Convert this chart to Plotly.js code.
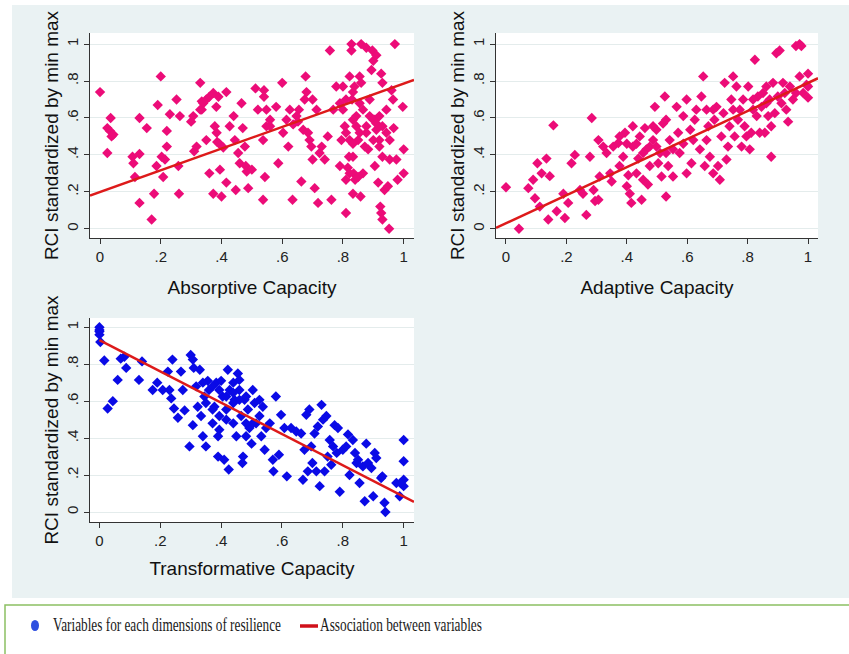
<!DOCTYPE html>
<html>
<head>
<meta charset="utf-8">
<script src="https://cdn.plot.ly/plotly-3.0.1.min.js"></script>
<style>html,body{margin:0;padding:0;background:#fff;}#chart{width:849px;height:654px;}</style>
</head>
<body>
<div id="chart"></div>
<script>
// ---- Data ----
const tickVals = [0, 0.2, 0.4, 0.6, 0.8, 1];
const tickText = ['0', '.2', '.4', '.6', '.8', '1'];
const yTitle = 'RCI standardized by min max';
const xTitles = ['Absorptive Capacity', 'Adaptive Capacity', 'Transformative Capacity'];
const legendLabels = ['Variables for each dimensions of resilience', 'Association between variables'];

const absX = [0,.035,.024,.033,.038,.044,.024,.107,.11,.13,.13,.115,.13,.154,.17,.178,.186,.19,.20,.203,.208,.214,.22,.22,.23,.252,.258,.26,.263,.30,.307,.31,.318,.33,.335,.335,.34,.35,.36,.373,.383,.39,.416,.33,.35,.36,.373,.378,.384,.386,.393,.395,.40,.406,.416,.427,.44,.444,.447,.455,.46,.466,.47,.477,.48,.483,.488,.50,.512,.52,.54,.54,.537,.543,.548,.548,.537,.56,.56,.58,.587,.60,.603,.614,.62,.625,.634,.636,.647,.652,.655,.663,.669,.674,.677,.68,.685,.69,.696,.70,.70,.707,.713,.718,.723,.73,.74,.75,.757,.762,.768,.778,.79,.795,.80,.806,.81,.81,.816,.82,.822,.822,.828,.828,.83,.833,.835,.838,.84,.844,.85,.855,.855,.858,.86,.86,.866,.872,.877,.877,.883,.888,.894,.897,.90,.905,.905,.91,.91,.916,.92,.923,.926,.93,.926,.93,.937,.943,.948,.952,.954,.96,.967,.971,.976,.98,.997,1.0,1.0,.80,.81,.833,.844,.866,.877,.888,.90,.91,.92,.93,.943,.954,.965,.833,.855,.90,.92,.93,.833,.79,.81,.833,.822,.85];
const absY = [.74,.60,.545,.53,.50,.51,.41,.39,.355,.60,.405,.28,.14,.545,.05,.19,.34,.67,.825,.39,.28,.375,.53,.445,.62,.70,.34,.19,.61,.58,.61,.42,.445,.79,.69,.645,.68,.70,.715,.735,.66,.715,.74,.645,.48,.30,.19,.555,.52,.47,.46,.32,.175,.44,.25,.555,.61,.48,.21,.41,.355,.68,.545,.445,.34,.31,.22,.32,.76,.645,.75,.715,.157,.28,.645,.555,.48,.555,.59,.66,.355,.79,.52,.59,.445,.645,.157,.565,.61,.58,.645,.256,.536,.70,.825,.74,.52,.48,.445,.70,.375,.22,.645,.14,.41,.445,.375,.50,.965,.157,.645,.77,.34,.48,.77,.555,.085,.265,.33,.39,.48,.825,1.0,.965,.70,.19,.30,.77,.265,.61,.48,.68,.825,.175,1.0,.79,.30,.445,.98,.555,.43,.70,.86,.965,.91,.59,.34,.94,.536,.25,.48,.12,.085,.05,.84,.79,.21,.645,.23,0,.375,.75,.545,1.0,.375,.265,.66,.43,.30,.645,.70,.59,.555,.645,.52,.61,.59,.57,.61,.555,.52,.48,.70,.46,.52,.48,.445,.39,.39,.68,.52,.74,.30,.28];

const adpX = [0,.043,.074,.09,.096,.104,.112,.118,.134,.14,.145,.157,.168,.19,.195,.206,.217,.228,.245,.255,.266,.278,.284,.29,.295,.306,.306,.31,.322,.333,.345,.35,.355,.372,.376,.376,.388,.394,.40,.405,.41,.415,.42,.42,.432,.438,.443,.449,.454,.46,.465,.47,.476,.487,.493,.498,.504,.51,.515,.52,.526,.53,.537,.542,.553,.565,.57,.575,.587,.598,.598,.61,.614,.62,.625,.63,.642,.647,.653,.658,.664,.67,.675,.686,.69,.697,.702,.708,.713,.72,.724,.73,.735,.74,.746,.752,.757,.763,.768,.774,.78,.785,.79,.796,.802,.807,.812,.818,.824,.83,.834,.84,.846,.851,.857,.862,.868,.873,.878,.878,.884,.89,.895,.90,.906,.912,.917,.923,.928,.934,.94,.96,.972,.978,.96,.972,.984,.995,1.0,1.0,1.0,.95,.40,.432,.476,.498,.53,.553,.587,.487,.454,.53,.664,.686,.752,.818,.862];
const adpY = [.225,0,.22,.265,.165,.355,.12,.30,.38,.05,.285,.56,.095,.19,.058,.14,.355,.40,.21,.19,.075,.39,.60,.21,.15,.157,.48,.283,.445,.41,.30,.256,.445,.464,.34,.50,.39,.52,.23,.29,.19,.14,.445,.555,.30,.38,.50,.157,.265,.545,.43,.24,.34,.48,.66,.536,.355,.41,.283,.57,.716,.175,.34,.48,.283,.66,.52,.41,.61,.30,.70,.536,.355,.48,.59,.645,.43,.716,.825,.34,.48,.555,.39,.30,.59,.66,.34,.265,.50,.626,.79,.375,.445,.555,.70,.825,.50,.77,.59,.645,.445,.70,.555,.50,.77,.43,.52,.645,.915,.61,.716,.52,.66,.735,.52,.77,.61,.70,.39,.555,.79,.626,.95,.716,.965,.68,.79,.735,.645,.58,.77,.99,1.0,.99,.735,.825,.735,.78,.84,.71,.77,.70,.46,.46,.445,.445,.59,.43,.46,.555,.41,.41,.645,.645,.645,.70,.68];

const trfX = [0,0,0,0,.003,.016,.027,.044,.06,.07,.082,.088,.13,.14,.175,.19,.208,.225,.23,.236,.24,.245,.258,.268,.274,.28,.296,.30,.307,.307,.31,.318,.323,.33,.334,.34,.345,.35,.356,.36,.372,.378,.384,.39,.39,.394,.40,.405,.41,.417,.422,.425,.428,.44,.444,.45,.455,.46,.466,.47,.472,.477,.482,.488,.493,.50,.504,.51,.515,.526,.532,.537,.543,.548,.56,.57,.572,.58,.59,.597,.608,.616,.63,.647,.663,.669,.674,.68,.685,.69,.696,.70,.707,.713,.718,.724,.73,.735,.74,.746,.75,.757,.762,.768,.773,.78,.784,.79,.80,.811,.817,.822,.833,.84,.845,.85,.855,.866,.872,.877,.883,.894,.90,.905,.91,.926,.93,.937,.94,.976,.987,1.0,1.0,1.0,1.0,.99,.34,.372,.394,.44,.46,.417,.44,.46,.482,.35,.372,.394,.417,.504,.482,.526,.44];
const trfY = [1.0,.977,.96,.985,.92,.82,.56,.60,.715,.83,.84,.78,.715,.815,.66,.70,.66,.76,.66,.615,.825,.56,.51,.76,.66,.55,.355,.85,.825,.47,.78,.68,.57,.77,.52,.41,.625,.355,.71,.66,.48,.57,.70,.30,.41,.445,.71,.625,.283,.555,.77,.23,.66,.48,.607,.41,.75,.66,.52,.265,.30,.607,.41,.555,.455,.37,.66,.59,.48,.52,.41,.57,.337,.455,.48,.283,.22,.625,.31,.526,.455,.193,.455,.436,.425,.175,.337,.526,.22,.555,.355,.265,.425,.22,.463,.14,.58,.50,.22,.52,.30,.39,.256,.355,.47,.32,.455,.11,.337,.355,.42,.20,.39,.32,.265,.283,.157,.247,.058,.37,.265,.238,.085,.32,.292,.184,.193,.05,0,.157,.085,.39,.275,.175,.14,.157,.70,.68,.66,.70,.715,.625,.59,.607,.625,.59,.555,.52,.50,.48,.48,.607,.645];

// fitted association lines (end points)
const absLineX = [-0.033, 1.034], absLineY = [0.18, 0.806];
const adpLineX = [-0.033, 1.033], adpLineY = [0.005, 0.815];
const trfLineX = [0, 1.034], trfLineY = [0.93, 0.055];

// ---- Styles ----
const PINK = '#ec0c78', BLUE = '#0a0ae6', RED = '#dd1a1a', BG = '#eaf2f3';
const FONT = 'Liberation Sans, Arial, sans-serif';
const SERIF = 'Liberation Serif, Times New Roman, serif';

function pts(x, y, color, xa, ya) {
  return {x: x, y: y, xaxis: xa, yaxis: ya, type: 'scatter', mode: 'markers',
    marker: {symbol: 'diamond', size: 8, color: color, line: {width: 0}}, hoverinfo: 'x+y'};
}
function fit(x, y, xa, ya) {
  return {x: x, y: y, xaxis: xa, yaxis: ya, type: 'scatter', mode: 'lines',
    line: {color: RED, width: 2.5}, hoverinfo: 'skip'};
}
const data = [
  pts(absX, absY, PINK, 'x', 'y'), fit(absLineX, absLineY, 'x', 'y'),
  pts(adpX, adpY, PINK, 'x2', 'y2'), fit(adpLineX, adpLineY, 'x2', 'y2'),
  pts(trfX, trfY, BLUE, 'x3', 'y3'), fit(trfLineX, trfLineY, 'x3', 'y3')
];

function xax(dom, rng, title, anchor, so) {
  return {domain: dom, range: rng, anchor: anchor, showline: true, linecolor: '#333', linewidth: 1,
    ticks: 'outside', ticklen: 5, tickcolor: '#333', tickvals: tickVals, ticktext: tickText,
    tickfont: {size: 15, color: '#222', family: FONT}, showgrid: false, zeroline: false,
    title: {text: title, font: {size: 19, color: '#111', family: FONT}, standoff: so}};
}
function yax(dom, rng, anchor) {
  return {domain: dom, range: rng, anchor: anchor, showline: true, linecolor: '#333', linewidth: 1,
    ticks: 'outside', ticklen: 5, tickcolor: '#333', tickvals: tickVals, ticktext: tickText, tickangle: -90,
    tickfont: {size: 15, color: '#222', family: FONT}, showgrid: true, gridcolor: '#e4ecec', gridwidth: 1,
    zeroline: false,
    title: {text: yTitle, font: {size: 19, color: '#111', family: FONT}, standoff: 0}};
}

const W = 849, H = 654;
const px = v => v / W, py = v => 1 - v / H;

const layout = {
  width: W, height: H, margin: {l: 0, r: 0, t: 0, b: 0},
  paper_bgcolor: BG, plot_bgcolor: '#ffffff', showlegend: false,
  font: {family: FONT, color: '#111'},
  xaxis: xax([px(90), px(414)], [-0.033, 1.034], xTitles[0], 'y', 16),
  yaxis: yax([py(238), py(33)], [-0.05, 1.06], 'x'),
  xaxis2: xax([px(496), px(818)], [-0.033, 1.033], xTitles[1], 'y2', 16),
  yaxis2: yax([py(238), py(33)], [-0.05, 1.06], 'x2'),
  xaxis3: xax([px(90), px(414)], [-0.031, 1.034], xTitles[2], 'y3', 13),
  yaxis3: yax([py(522), py(318)], [-0.054, 1.05], 'x3'),
  shapes: [
    {type: 'rect', xref: 'paper', yref: 'paper', x0: 0, x1: 1, y0: py(5), y1: 1, fillcolor: '#fff', line: {width: 0}, layer: 'below'},
    {type: 'rect', xref: 'paper', yref: 'paper', x0: 0, x1: px(12), y0: 0, y1: 1, fillcolor: '#fff', line: {width: 0}, layer: 'below'},
    {type: 'rect', xref: 'paper', yref: 'paper', x0: 0, x1: 1, y0: 0, y1: py(598), fillcolor: '#fff', line: {width: 0}, layer: 'below'},
    {type: 'rect', xref: 'paper', yref: 'paper', x0: px(5), x1: 1.02, y0: -0.02, y1: py(605), fillcolor: '#fff', line: {width: 1.5, color: '#8cc063'}, layer: 'below'},
    {type: 'circle', xref: 'paper', yref: 'paper', x0: px(31), x1: px(39), y0: py(631), y1: py(620), fillcolor: '#2f50e0', line: {width: 0}},
    {type: 'line', xref: 'paper', yref: 'paper', x0: px(300), x1: px(318), y0: py(626), y1: py(626), line: {width: 3.5, color: '#d0101a'}}
  ],
  annotations: [
    {xref: 'paper', yref: 'paper', x: px(51), y: py(625), xanchor: 'left', yanchor: 'middle', showarrow: false,
     text: legendLabels[0], font: {family: SERIF, size: 18, color: '#1a1a1a'}},
    {xref: 'paper', yref: 'paper', x: px(318), y: py(625), xanchor: 'left', yanchor: 'middle', showarrow: false,
     text: legendLabels[1], font: {family: SERIF, size: 18, color: '#1a1a1a'}}
  ]
};

Plotly.newPlot('chart', data, layout, {staticPlot: true, displayModeBar: false}).then(function (gd) {
  // the reference legend uses a horizontally condensed serif face: narrow the two legend texts
  const targets = [228, 162];
  gd.querySelectorAll('.annotation-text').forEach(function (t, i) {
    try {
      const bb = t.getBBox();
      const s = Math.min(1, targets[i] / bb.width);
      t.setAttribute('transform', 'translate(' + bb.x + ',0) scale(' + s + ',1) translate(' + (-bb.x) + ',0)');
    } catch (e) {}
  });
});
</script>
</body>
</html>
